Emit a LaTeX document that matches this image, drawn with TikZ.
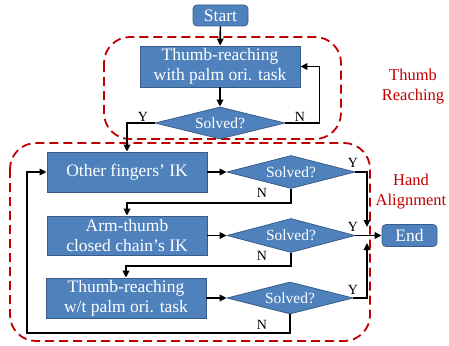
\documentclass[tikz,border=0pt]{standalone}
\usepackage{fontspec}
\setmainfont{Liberation Serif}
\usetikzlibrary{shapes.geometric,arrows.meta}
\definecolor{boxfill}{RGB}{79,129,189}
\definecolor{boxline}{RGB}{56,93,138}
\definecolor{darkred}{RGB}{192,0,0}
\tikzset{
  x=1pt,y=-1pt,
  procbox/.style={draw=boxline,line width=0.8pt,fill=boxfill,text=white,minimum width=160pt,minimum height=40pt,inner sep=0pt,align=center,font=\fontsize{17.5}{20}\selectfont},
  termbox/.style={procbox,rounded corners=4pt,minimum width=55pt,minimum height=21pt},
  decide/.style={shape=diamond,aspect=4,draw=boxline,line width=0.8pt,fill=boxfill,text=white,minimum width=128pt,minimum height=33pt,inner sep=0pt,font=\fontsize{15.5}{17}\selectfont},
  arr/.style={draw=black,line width=1.7pt,-{Triangle[length=7pt,width=6.5pt]}},
  yn/.style={font=\fontsize{14}{16}\selectfont,inner sep=0pt},
  group/.style={draw=darkred,line width=1.8pt,dash pattern=on 9pt off 5pt,rounded corners=26pt},
  grouplabel/.style={text=darkred,align=center,font=\fontsize{16.5}{20}\selectfont,inner sep=0pt}
}
\begin{document}
\begin{tikzpicture}
\useasboundingbox (0,0) rectangle (449,345);
% groups
\draw[group] (104,37) rectangle (341,139);
\draw[group] (10,143) rectangle (370,341);
\node[grouplabel] (lab1) at (413,87) {Thumb\\Reaching};
\node[grouplabel] (lab2) at (411,192) {Hand\\Alignment};
% nodes
\node[termbox] (start) at (220.5,15.5) {Start};
\node[procbox,minimum height=41pt] (b1) at (220,66.5) {Thumb-reaching\\with palm ori. task};
\node[decide,minimum width=130pt,minimum height=32pt] (d1) at (220,123) {Solved?};
\node[procbox] (b2) at (127,172) {Other fingers' IK};
\node[decide] (d2) at (291,172) {Solved?};
\node[procbox,minimum height=39pt] (b3) at (127,235.5) {Arm-thumb\\closed chain's IK};
\node[decide,minimum height=34pt] (d3) at (291,235.5) {Solved?};
\node[termbox,minimum height=22pt] (end) at (409.5,235.5) {End};
\node[procbox] (b4) at (126,298) {Thumb-reaching\\w/t palm ori. task};
\node[decide,minimum width=126pt,minimum height=32pt] (d4) at (290,298) {Solved?};
% helper coordinates
\coordinate (jtop) at (367,227);
\coordinate (jbot) at (367,243);
\coordinate (lc) at (27,333);
% connectors
\draw[arr] (start) -- (b1);
\draw[arr] (b1) -- (d1);
\draw[arr] (d1.east) -- ++(34,0) |- (b1.east);
\draw[arr] (d1.west) -| (b2.north);
\draw[arr] (b2) -- (d2);
\draw[arr] (d2.east) -| (jtop);
\draw[arr] (d2.south) -- ++(0,14) -| (b3.north);
\draw[arr] (b3.east) -- (d3.west);
\draw[arr] (d3.east) -- (end.west);
\draw[arr] (d3.south) -- ++(0,13) -| (b4.north);
\draw[arr] (b4.east) -- (d4.west);
\draw[arr] (d4.east) -| (jbot);
\draw[arr] (d4.south) |- (lc) |- (b2.west);
% Y / N labels
\node[yn] (y1) at (143,117) {Y};
\node[yn] (n1) at (300,117) {N};
\node[yn] (y2) at (353,163) {Y};
\node[yn] (n2) at (262,193) {N};
\node[yn] (y3) at (353,227) {Y};
\node[yn] (n3) at (262,256) {N};
\node[yn] (y4) at (353,290) {Y};
\node[yn] (n4) at (262,325) {N};
\end{tikzpicture}
\end{document}
